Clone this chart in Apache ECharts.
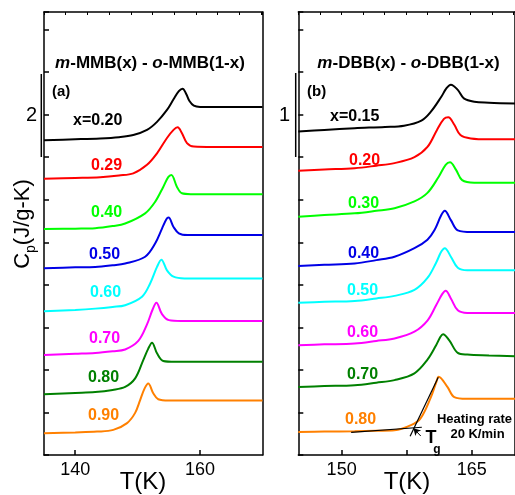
<!DOCTYPE html>
<html><head><meta charset="utf-8">
<script src="https://cdn.jsdelivr.net/npm/echarts@6/dist/echarts.min.js"></script>
<style>html,body{margin:0;padding:0;background:#fff}#c{width:515px;height:495px}</style>
</head><body><div id="c"></div>
<script>
// ---------- data (T in K, Cp relative to each curve's low-T baseline, J/g-K) ----------
const mmb020 = [[135,0],[140,0.02],[144,0.04],[147,0.07],[149.3,0.12],[151.5,0.24],[153.1,0.43],[154.7,0.71],[155.75,0.96],[156.6,1.15],[157.2,1.21],[157.8,1.08],[158.3,0.92],[159,0.81],[160,0.78],[165,0.78],[170,0.78]];
const mmb029 = [[135,0],[140,0.02],[144,0.04],[147,0.08],[149.3,0.13],[151.5,0.33],[153.1,0.60],[154.7,0.96],[155.75,1.15],[156.4,1.21],[157.1,1.07],[157.9,0.84],[159,0.76],[162,0.75],[166,0.75],[170,0.75]];
const mmb040 = [[135,0],[140,0.01],[143.2,0.02],[146,0.07],[148,0.13],[151.2,0.37],[152.8,0.64],[154.1,0.99],[154.9,1.22],[155.4,1.27],[156.3,0.99],[157.1,0.84],[158.5,0.82],[163,0.82],[170,0.82]];
const mmb050 = [[135,0],[140,0.02],[143.2,0.03],[146,0.07],[148,0.11],[151.2,0.27],[152.8,0.58],[153.9,0.93],[154.6,1.15],[154.95,1.19],[155.75,0.97],[156.6,0.82],[158,0.78],[163,0.78],[170,0.78]];
const mmb060 = [[135,0],[140,0.03],[143.2,0.06],[146,0.10],[148,0.14],[150.7,0.34],[152,0.65],[153.1,1.04],[153.8,1.21],[154.7,0.96],[155.75,0.81],[157.5,0.77],[163,0.77],[170,0.77]];
const mmb070 = [[135,0],[140,0.03],[143.2,0.05],[146,0.09],[148,0.13],[150.1,0.33],[151.5,0.72],[152.4,1.07],[153.0,1.23],[153.9,0.96],[155,0.82],[157,0.80],[163,0.80],[170,0.80]];
const mmb080 = [[135,0],[140,0.03],[143.2,0.05],[146,0.10],[148,0.17],[149.6,0.37],[150.9,0.80],[151.7,1.07],[152.3,1.21],[153.1,0.96],[154.1,0.78],[156,0.76],[163,0.76],[170,0.76]];
const mmb090 = [[135,0],[140,0.02],[143.5,0.04],[146.1,0.08],[148.3,0.24],[149.6,0.48],[150.4,0.78],[151.1,1.05],[151.7,1.17],[152.5,0.94],[153.3,0.80],[155,0.77],[163,0.77],[170,0.77]];

const dbb015 = [[145,0],[148,0.02],[151.5,0.04],[155,0.055],[157.2,0.07],[159.2,0.13],[160.3,0.235],[161.5,0.41],[162.1,0.51],[162.6,0.55],[163.4,0.49],[164.1,0.39],[165.3,0.35],[167,0.34],[170,0.33]];
const dbb020 = [[145,0],[148,0.015],[151.5,0.03],[154,0.06],[156.1,0.09],[158.4,0.16],[159.9,0.28],[161,0.48],[161.8,0.61],[162.3,0.63],[163,0.54],[163.7,0.42],[164.9,0.38],[167,0.37],[170,0.37]];
const dbb030 = [[145,0],[148,0.02],[151.5,0.04],[154,0.07],[156.1,0.10],[158.4,0.18],[159.9,0.28],[161.2,0.47],[162,0.61],[162.5,0.64],[163.2,0.55],[163.9,0.43],[165.3,0.40],[170,0.40]];
const dbb040 = [[145,0],[148,0.015],[151.5,0.03],[154,0.07],[156.1,0.11],[158.4,0.21],[159.9,0.31],[160.7,0.42],[161.5,0.60],[161.9,0.65],[162.6,0.54],[163.4,0.42],[165,0.40],[170,0.40]];
const dbb050 = [[145,0],[148,0.01],[151.5,0.02],[154,0.05],[156.1,0.08],[158.4,0.15],[159.9,0.29],[160.9,0.47],[161.5,0.60],[161.9,0.64],[162.6,0.54],[163.4,0.41],[164.5,0.38],[170,0.38]];
const dbb060 = [[145,0],[148,0.01],[151.5,0.02],[154,0.05],[156.1,0.08],[158.4,0.16],[159.9,0.29],[160.9,0.47],[161.6,0.60],[162.0,0.64],[162.6,0.55],[163.4,0.41],[164.5,0.38],[170,0.38]];
const dbb070 = [[145,0],[148,0.01],[151.5,0.02],[154,0.05],[156.1,0.08],[158.4,0.16],[159.9,0.32],[160.9,0.49],[161.4,0.59],[161.7,0.62],[162.4,0.55],[163.4,0.40],[164.5,0.38],[167,0.37],[170,0.36]];
const dbb080 = [[145,0],[148,0.005],[151.5,0.01],[154,0.015],[156.1,0.02],[158,0.08],[159.1,0.16],[160.3,0.41],[160.9,0.58],[161.2,0.65],[162.2,0.53],[163,0.41],[164.4,0.39],[170,0.39]];

// vertical stacking offsets (J/g-K)
const mmbOffsets = [7.40, 6.49, 5.31, 4.39, 3.38, 2.35, 1.43, 0.51];
const dbbOffsets = [3.80, 3.34, 2.80, 2.22, 1.79, 1.29, 0.80, 0.27];
const mmbLabels = ['x=0.20','0.29','0.40','0.50','0.60','0.70','0.80','0.90'];
const dbbLabels = ['x=0.15','0.20','0.30','0.40','0.50','0.60','0.70','0.80'];

// Tg construction on the x=0.80 DBB curve (absolute coordinates)
const tgBaseline = [[151.1,0.267],[159.25,0.326]];
const tgSteep = [[157.9,0.22],[161.15,0.913]];
const tgArrow = [[159.13,0.223],[158.28,0.314]];

const xTicksA = [140,160];
const xTicksB = [150,157.5,165];
const xLabelsB = [150,165];

// ---------- styles ----------
const colors = ['#000000','#ff0000','#00ff00','#0000e6','#00ffff','#ff00ff','#008000','#ff8000'];
const FF = 'Liberation Sans';
const mmbCurves = [mmb020,mmb029,mmb040,mmb050,mmb060,mmb070,mmb080,mmb090];
const dbbCurves = [dbb015,dbb020,dbb030,dbb040,dbb050,dbb060,dbb070,dbb080];

const chart = echarts.init(document.getElementById('c'), null, {renderer:'canvas', width:515, height:495});

function curve(data, off, color, idx){
  return {type:'line', xAxisIndex:idx, yAxisIndex:idx, data:data.map(p=>[p[0], +(p[1]+off).toFixed(4)]),
    symbol:'none', showSymbol:false, smooth:0.35, lineStyle:{color:color, width:2}, silent:true, animation:false, z:3};
}
const series = [];
mmbCurves.forEach((d,i)=>series.push(curve(d, mmbOffsets[i], colors[i], 0)));
dbbCurves.forEach((d,i)=>series.push(curve(d, dbbOffsets[i], colors[i], 1)));
series.push({type:'line', xAxisIndex:1, yAxisIndex:1, data:tgBaseline, symbol:'none', lineStyle:{color:'#000', width:1.2}, silent:true, animation:false, z:5});
series.push({type:'line', xAxisIndex:1, yAxisIndex:1, data:tgSteep, symbol:'none', lineStyle:{color:'#000', width:1.2}, silent:true, animation:false, z:5,
  markLine:{silent:true, animation:false, symbol:['none','arrow'], symbolSize:[6,7], label:{show:false},
    lineStyle:{color:'#000', width:1, type:'solid'},
    data:[[{coord:tgArrow[0]},{coord:tgArrow[1]}]]}});

const axLine = {show:true, onZero:false, lineStyle:{color:'#000', width:1.5}};
function bottomX(grid, min, max, ticks, labels){
  return {type:'value', gridIndex:grid, position:'bottom', min:min, max:max,
    axisLine:axLine, splitLine:{show:false},
    axisTick:{show:true, inside:true, length:5, customValues:ticks, lineStyle:{color:'#000', width:1.5}},
    axisLabel:{show:true, customValues:labels, fontSize:18, color:'#000', margin:6, fontFamily:FF}};
}
function topX(grid, max){
  return {type:'value', gridIndex:grid, position:'top', min:0, max:max, interval:1,
    axisLine:axLine, splitLine:{show:false}, axisLabel:{show:false},
    axisTick:{show:true, inside:true, length:3, lineStyle:{color:'#000', width:1}}};
}
function leftY(grid, max, interval){
  return {type:'value', gridIndex:grid, position:'left', min:0, max:max, interval:interval,
    axisLine:axLine, splitLine:{show:false}, axisLabel:{show:false},
    axisTick:{show:true, inside:true, length:5, lineStyle:{color:'#000', width:1.5}}};
}
function rightY(grid){
  return {type:'value', gridIndex:grid, position:'right', min:0, max:1,
    axisLine:axLine, splitLine:{show:false}, axisLabel:{show:false}, axisTick:{show:false}};
}

const txt = (text, x, y, size, color, extra) => Object.assign({type:'text', x:x, y:y, silent:true, z:10,
  style:Object.assign({text:text, fontSize:size, fontFamily:FF, fill:color||'#000', fontWeight:'bold',
    align:'left', verticalAlign:'middle', textAlign:'left', textVerticalAlign:'middle'}, {})}, extra||{});

const graphics = [];
// titles
[['{i|m}-MMB(x) - {i|o}-MMB(1-x)',150],['{i|m}-DBB(x) - {i|o}-DBB(1-x)',408.5]].forEach(t=>{
  graphics.push({type:'text', x:t[1], y:63, silent:true, z:10, style:{text:t[0], fontSize:17, fontWeight:'bold', fontFamily:FF, fill:'#000',
    align:'center', verticalAlign:'middle', textAlign:'center', textVerticalAlign:'middle',
    rich:{i:{fontStyle:'italic', fontWeight:'bold', fontSize:17, fontFamily:FF, fill:'#000', color:'#000'}}}});
});
// panel letters
graphics.push(txt('(a)', 52, 91.5, 15));
graphics.push(txt('(b)', 307, 91.5, 15));
// curve labels
const labPosA = [[73,121],[91,166],[91,212.5],[89,254.5],[90,293],[89,339],[88,378],[88,416]];
const labPosB = [[330,117],[349,161],[348,204],[348,254],[347,291],[347,333],[347,375],[345,420]];
mmbLabels.forEach((l,i)=>graphics.push(txt(l, labPosA[i][0], labPosA[i][1], 16, colors[i])));
dbbLabels.forEach((l,i)=>graphics.push(txt(l, labPosB[i][0], labPosB[i][1], 16, colors[i])));
// scale bars
graphics.push({type:'line', silent:true, shape:{x1:41.3,y1:74,x2:41.3,y2:157}, style:{stroke:'#000', lineWidth:1.5}});
graphics.push({type:'line', silent:true, shape:{x1:295.7,y1:73,x2:295.7,y2:157}, style:{stroke:'#000', lineWidth:1.5}});
graphics.push({type:'text', x:31.5, y:115, silent:true, style:{text:'2', fontSize:20, fontFamily:FF, fill:'#000', align:'center', verticalAlign:'middle', textAlign:'center', textVerticalAlign:'middle'}});
graphics.push({type:'text', x:284.5, y:115, silent:true, style:{text:'1', fontSize:20, fontFamily:FF, fill:'#000', align:'center', verticalAlign:'middle', textAlign:'center', textVerticalAlign:'middle'}});
// axis titles
graphics.push({type:'text', x:143, y:482, silent:true, style:{text:'T(K)', fontSize:24, fontFamily:FF, fill:'#000', align:'center', verticalAlign:'middle', textAlign:'center', textVerticalAlign:'middle'}});
graphics.push({type:'text', x:407, y:482, silent:true, style:{text:'T(K)', fontSize:24, fontFamily:FF, fill:'#000', align:'center', verticalAlign:'middle', textAlign:'center', textVerticalAlign:'middle'}});
graphics.push({type:'text', x:23, y:224, rotation:Math.PI/2, silent:true, style:{text:'{c|C}{p|p}{c|(J/g-K)}', fontSize:22, fontFamily:FF, fill:'#000',
  align:'center', verticalAlign:'middle', textAlign:'center', textVerticalAlign:'middle',
  rich:{c:{fontSize:22, fontFamily:FF, fill:'#000', color:'#000', lineHeight:30}, p:{fontSize:14, fontFamily:FF, fill:'#000', color:'#000', verticalAlign:'bottom'}}}});
// Tg and heating-rate annotations
graphics.push({type:'text', x:431, y:438.5, silent:true, z:10, style:{text:'T', fontSize:18, fontWeight:'bold', fontFamily:FF, fill:'#000', align:'center', verticalAlign:'middle', textAlign:'center', textVerticalAlign:'middle'}});
graphics.push({type:'text', x:437, y:449.5, silent:true, z:10, style:{text:'g', fontSize:12, fontWeight:'bold', fontFamily:FF, fill:'#000', align:'center', verticalAlign:'middle', textAlign:'center', textVerticalAlign:'middle'}});
graphics.push({type:'text', x:474.5, y:419, silent:true, z:10, style:{text:'Heating rate', fontSize:13, fontWeight:'bold', fontFamily:FF, fill:'#000', align:'center', verticalAlign:'middle', textAlign:'center', textVerticalAlign:'middle'}});
graphics.push({type:'text', x:477.5, y:434, silent:true, z:10, style:{text:'20 K/min', fontSize:13, fontWeight:'bold', fontFamily:FF, fill:'#000', align:'center', verticalAlign:'middle', textAlign:'center', textVerticalAlign:'middle'}});

chart.setOption({
  animation:false,
  backgroundColor:'#fff',
  grid:[{left:44, top:12, width:218.5, height:443},{left:298.3, top:12, width:218.3, height:443}],
  xAxis:[bottomX(0,135,170,xTicksA,xTicksA), bottomX(1,145,170,xTicksB,xLabelsB), topX(0,218.5/21.7), topX(1,218.3/21.7)],
  yAxis:[leftY(0,443/42.55,1), leftY(1,443/85.1,0.5), rightY(0), rightY(1)],
  series:series,
  graphic:graphics
});
</script></body></html>
